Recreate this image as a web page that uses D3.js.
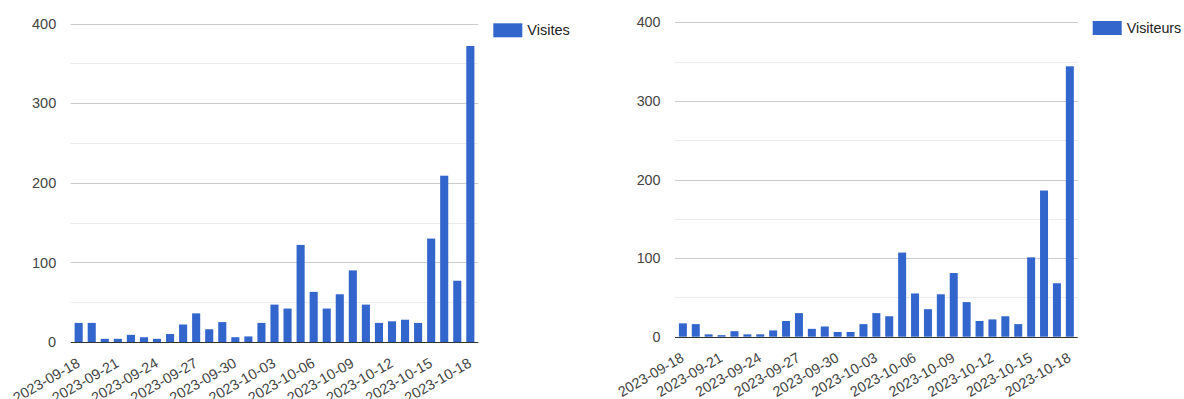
<!DOCTYPE html>
<html>
<head>
<meta charset="utf-8">
<script src="https://cdn.jsdelivr.net/npm/d3@7"></script>
<style>
  html, body { margin: 0; padding: 0; background: #fff; }
  svg { display: block; }
  text { font-family: "Liberation Sans", Arial, sans-serif; }
</style>
</head>
<body>
<svg id="chart" width="1184" height="399"></svg>
<script>
// Daily dates, 2023-09-18 to 2023-10-18
const dates = [
  "2023-09-18","2023-09-19","2023-09-20","2023-09-21","2023-09-22","2023-09-23","2023-09-24",
  "2023-09-25","2023-09-26","2023-09-27","2023-09-28","2023-09-29","2023-09-30","2023-10-01",
  "2023-10-02","2023-10-03","2023-10-04","2023-10-05","2023-10-06","2023-10-07","2023-10-08",
  "2023-10-09","2023-10-10","2023-10-11","2023-10-12","2023-10-13","2023-10-14","2023-10-15",
  "2023-10-16","2023-10-17","2023-10-18"
];

// Visits per day
const visites = [
  24, 24, 4, 4, 9, 6, 4, 10, 22, 36, 16, 25, 6, 7, 24, 47,
  42, 122, 63, 42, 60, 90, 47, 24, 26, 28, 24, 130, 209, 77, 372
];

// Unique visitors per day
const visiteurs = [
  17, 16, 3, 2, 7, 3, 3, 8, 20, 30, 10, 13, 6, 6, 16, 30,
  26, 107, 55, 35, 54, 81, 44, 20, 22, 26, 16, 101, 186, 68, 344
];

// Date labels shown under the x axis (every third day)
const xTickLabels = dates.filter((d, i) => i % 3 === 0);

// Value axis ticks
const yTicks = [0, 100, 200, 300, 400];
const yMinorTicks = [50, 150, 250, 350];

const svg = d3.select("#chart");
const barColor = "#3366cc";

function drawPanel(cfg, values, seriesName) {
  const g = svg.append("g");

  const x = d3.scaleBand()
    .domain(dates)
    .range([cfg.left, cfg.right])
    .paddingInner(0.38)
    .paddingOuter(0.3);

  const y = d3.scaleLinear()
    .domain([0, 400])
    .range([cfg.bottom, cfg.top]);

  // Minor gridlines
  g.append("g").selectAll("line")
    .data(yMinorTicks)
    .join("line")
    .attr("x1", cfg.left).attr("x2", cfg.right)
    .attr("y1", d => Math.round(y(d)) + 0.5).attr("y2", d => Math.round(y(d)) + 0.5)
    .attr("stroke", "#ebebeb");

  // Major gridlines
  g.append("g").selectAll("line")
    .data(yTicks.filter(d => d > 0))
    .join("line")
    .attr("x1", cfg.left).attr("x2", cfg.right)
    .attr("y1", d => Math.round(y(d)) + 0.5).attr("y2", d => Math.round(y(d)) + 0.5)
    .attr("stroke", "#cccccc");

  // Y axis labels
  const yAxis = d3.axisLeft(y).tickValues(yTicks).tickSize(0).tickPadding(14.5);
  const ya = g.append("g")
    .attr("transform", `translate(${cfg.left},0)`)
    .call(yAxis);
  ya.select(".domain").remove();
  ya.selectAll("text")
    .attr("font-family", "Liberation Sans, Arial, sans-serif")
    .attr("font-size", cfg.font)
    .attr("fill", "#444");

  // Bars
  g.append("g").selectAll("rect")
    .data(values.map((v, i) => ({ date: dates[i], value: v })))
    .join("rect")
    .attr("x", d => x(d.date))
    .attr("width", x.bandwidth())
    .attr("y", d => y(d.value))
    .attr("height", d => y(0) - y(d.value))
    .attr("fill", barColor);

  // Baseline
  g.append("line")
    .attr("x1", cfg.left).attr("x2", cfg.right)
    .attr("y1", Math.round(y(0)) + 0.5).attr("y2", Math.round(y(0)) + 0.5)
    .attr("stroke", "#333");

  // Slanted date labels
  const xAxis = d3.axisBottom(x).tickValues(xTickLabels).tickSize(0).tickPadding(0);
  const xa = g.append("g")
    .attr("transform", `translate(0,${y(0)})`)
    .call(xAxis);
  xa.select(".domain").remove();
  xa.selectAll("text")
    .attr("font-family", "Liberation Sans, Arial, sans-serif")
    .attr("font-size", cfg.font)
    .attr("fill", "#444")
    .attr("text-anchor", "end")
    .attr("y", 0)
    .attr("dy", "0.72em")
    .attr("transform", "translate(-3,15) rotate(-30)");

  // Legend
  const lg = g.append("g").attr("transform", `translate(${cfg.legendX},${cfg.legendY})`);
  lg.append("rect")
    .attr("width", 29).attr("height", 14)
    .attr("fill", barColor);
  lg.append("text")
    .attr("x", 34).attr("y", 12)
    .attr("font-size", cfg.font)
    .attr("fill", "#222")
    .text(seriesName);
}

drawPanel({ left: 70.7, right: 478.3, top: 23.7, bottom: 342, legendX: 493.3, legendY: 23.3, font: 14.5 },
  visites, "Visites");
drawPanel({ left: 675, right: 1077.7, top: 22.3, bottom: 336.7, legendX: 1092.7, legendY: 21, font: 14.3 },
  visiteurs, "Visiteurs");
</script>
</body>
</html>
